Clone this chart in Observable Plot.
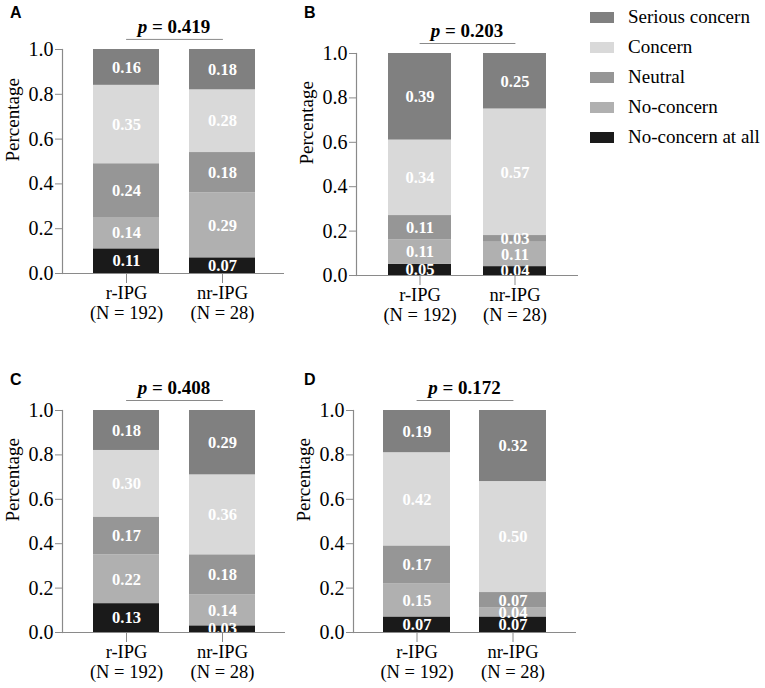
<!DOCTYPE html>
<html><head><meta charset="utf-8">
<script src="https://cdn.jsdelivr.net/npm/d3@7"></script>
<script src="https://cdn.jsdelivr.net/npm/@observablehq/plot@0.6"></script>
<style>
body{margin:0;background:#fff;}
#root{position:relative;width:765px;height:688px;background:#fff;font-family:"Liberation Serif","Times New Roman",Times,serif;overflow:hidden;}
.panel{position:absolute;}
.letter{position:absolute;font-family:"Liberation Sans",Arial,sans-serif;font-weight:bold;font-size:16px;line-height:16px;}
.pval{position:absolute;font-weight:bold;font-size:19px;line-height:19px;transform:translate(-50%,-50%);white-space:nowrap;}
.leg{position:absolute;display:flex;align-items:center;font-size:19px;white-space:nowrap;}
.sw{width:24px;height:11px;margin-right:14px;}
</style></head>
<body><div id="root"></div>
<script>
// ---- data ----
const categories = ["No-concern at all", "No-concern", "Neutral", "Concern", "Serious concern"];
const legendOrder = ["Serious concern", "Concern", "Neutral", "No-concern", "No-concern at all"];
const colors = ["#1a1a1a", "#b0b0b0", "#969696", "#d9d9d9", "#808080"];
const groups = ["r-IPG", "nr-IPG"];
const groupLabels = ["r-IPG\n(N = 192)", "nr-IPG\n(N = 28)"];
const panelNames = ["A", "B", "C", "D"];
const pValues = ["0.419", "0.203", "0.408", "0.172"];
const yTicks = [0, 0.2, 0.4, 0.6, 0.8, 1.0];
// values ordered as categories (bottom to top)
const valuesA_r = [0.11, 0.14, 0.24, 0.35, 0.16];
const valuesA_nr = [0.07, 0.29, 0.18, 0.28, 0.18];
const valuesB_r = [0.05, 0.11, 0.11, 0.34, 0.39];
const valuesB_nr = [0.04, 0.11, 0.03, 0.57, 0.25];
const valuesC_r = [0.13, 0.22, 0.17, 0.30, 0.18];
const valuesC_nr = [0.03, 0.14, 0.18, 0.36, 0.29];
const valuesD_r = [0.07, 0.15, 0.17, 0.42, 0.19];
const valuesD_nr = [0.07, 0.04, 0.07, 0.50, 0.32];

// ---- layout (page pixels) ----
const layouts = [
  {axisX: 62, yTop: 49, yBot: 273, bar1: 93, bw: 66, step: 96, right: 284, lx: 10, ly: 5},
  {axisX: 356, yTop: 53, yBot: 275, bar1: 388, bw: 63, step: 95, right: 578, lx: 304, ly: 5},
  {axisX: 62, yTop: 410, yBot: 632, bar1: 93, bw: 66, step: 96, right: 285, lx: 10, ly: 372},
  {axisX: 353, yTop: 410, yBot: 632, bar1: 383, bw: 67, step: 96, right: 576, lx: 304, ly: 372}
];
const panelValues = [[valuesA_r, valuesA_nr], [valuesB_r, valuesB_nr], [valuesC_r, valuesC_nr], [valuesD_r, valuesD_nr]];

const root = document.getElementById("root");
const labelOf = new Map(groups.map((g, i) => [g, groupLabels[i]]));
const pLineY = 1.045;

panelNames.forEach((name, pi) => {
  const L = layouts[pi];
  const rows = [];
  groups.forEach((g, gi) => {
    let acc = 0;
    panelValues[pi][gi].forEach((v, ci) => {
      rows.push({group: g, cat: categories[ci], value: v, y1: acc, y2: acc + v, mid: acc + v / 2});
      acc += v;
    });
  });
  const mL = 62, mT = 49, mB = 57, mR = 6;
  const svgLeft = L.axisX - mL, svgTop = L.yTop - mT;
  const height = (L.yBot - svgTop) + mB;
  const width = (L.right - svgLeft) + mR;
  const pInner = 1 - L.bw / L.step;
  const pOuter = (L.bar1 - L.axisX) / L.step;
  const xr0 = mL, xr1 = mL + L.step * (2 - pInner + 2 * pOuter);

  const chart = Plot.plot({
    width, height,
    marginLeft: mL, marginTop: mT, marginBottom: mB, marginRight: mR,
    style: {fontFamily: "'Liberation Serif','Times New Roman',Times,serif", background: "transparent", overflow: "visible"},
    x: {type: "band", domain: groups, range: [xr0, xr1], paddingInner: pInner, paddingOuter: pOuter, align: 0.5},
    y: {domain: [0, 1]},
    color: {domain: categories, range: colors},
    marks: [
      Plot.barY(rows, {x: "group", y1: "y1", y2: "y2", fill: "cat", inset: 0}),
      Plot.text(rows, {x: "group", y: "mid", text: d => d.value.toFixed(2), fill: "white", fontWeight: "bold", fontSize: 16.5}),
      Plot.frame({anchor: "left", stroke: "#8a8a8a", strokeWidth: 1.2}),
      Plot.ruleY([0], {stroke: "#8a8a8a", strokeWidth: 1.2}),
      Plot.axisY({ticks: yTicks, tickFormat: d3.format(".1f"), tickSize: 7, tickPadding: 2, fontSize: 20, stroke: "#8a8a8a", fill: "black", label: null}),
      Plot.axisX({tickSize: 10, tickPadding: 2, tickFormat: d => labelOf.get(d), fontSize: 18.5, lineHeight: 1.05, stroke: "#8a8a8a", fill: "black", label: null}),
      Plot.line([{g: groups[0], y: pLineY}, {g: groups[1], y: pLineY}], {x: "g", y: "y", stroke: "#8a8a8a", strokeWidth: 1}),
      Plot.text(["Percentage"], {frameAnchor: "left", rotate: -90, dx: -50, fontSize: 19, fill: "black"})
    ]
  });
  const wrap = document.createElement("div");
  wrap.className = "panel";
  wrap.style.left = svgLeft + "px";
  wrap.style.top = svgTop + "px";
  wrap.appendChild(chart);
  root.appendChild(wrap);

  const letter = document.createElement("div");
  letter.className = "letter";
  letter.style.left = L.lx + "px";
  letter.style.top = L.ly + "px";
  letter.textContent = name;
  root.appendChild(letter);

  const pv = document.createElement("div");
  pv.className = "pval";
  const cx = L.bar1 + L.bw / 2 + L.step / 2;
  const lineY = L.yBot - pLineY * (L.yBot - L.yTop);
  pv.style.left = cx + "px";
  pv.style.top = (lineY - 13) + "px";
  pv.innerHTML = "<i>p</i> = " + pValues[pi];
  root.appendChild(pv);
});

// legend
legendOrder.forEach((c, i) => {
  const item = document.createElement("div");
  item.className = "leg";
  item.style.left = "590px";
  item.style.top = (17 + 30 * i - 11) + "px";
  item.style.height = "22px";
  const sw = document.createElement("div");
  sw.className = "sw";
  sw.style.background = colors[categories.indexOf(c)];
  const t = document.createElement("span");
  t.textContent = c;
  item.appendChild(sw);
  item.appendChild(t);
  root.appendChild(item);
});
</script>
</body></html>
